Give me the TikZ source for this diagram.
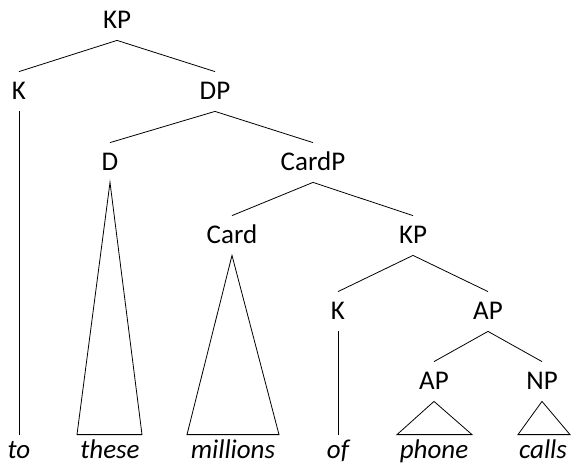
\documentclass[tikz,border=0pt]{standalone}
\usepackage{fontspec}
\setmainfont{Carlito}
\begin{document}
\begin{tikzpicture}[x=1pt,y=-1pt,line width=0.8pt,
  cat/.style={anchor=base,inner xsep=0pt,inner ysep=11pt,text height=17pt,text depth=0pt,font=\fontsize{27}{31}\selectfont},
  leaf/.style={anchor=base,inner xsep=0pt,inner ysep=5pt,text height=18pt,text depth=0pt,font=\fontsize{27}{31}\selectfont\itshape}]
\useasboundingbox (0,0) rectangle (571,465);
% categories
\node[cat] (kp) at (117,29) {KP};
\node[cat] (k) at (19,100) {K};
\node[cat] (dp) at (215,100) {DP};
\node[cat] (d) at (110,171) {D};
\node[cat] (cardp) at (313,171) {CardP};
\node[cat] (card) at (232,244) {Card};
\node[cat] (kp2) at (413,244) {KP};
\node[cat] (k2) at (338,320) {K};
\node[cat] (ap) at (488,320) {AP};
\node[cat] (ap2) at (434,390) {AP};
\node[cat] (np) at (542,390) {NP};
% leaves
\node[leaf] (to) at (19,458) {to};
\node[leaf] (these) at (110,458) {these};
\node[leaf] (millions) at (233,458) {millions};
\node[leaf] (of) at (338,458) {of};
\node[leaf] (phone) at (434,458) {phone};
\node[leaf] (calls) at (543,458) {calls};
% branches
\draw (kp.south) -- (k.north);
\draw (kp.south) -- (dp.north);
\draw (dp.south) -- (d.north);
\draw (dp.south) -- (cardp.north);
\draw (cardp.south) -- (card.north);
\draw (cardp.south) -- (kp2.north);
\draw (kp2.south) -- (k2.north);
\draw (kp2.south) -- (ap.north);
\draw (ap.south) -- (ap2.north);
\draw (ap.south) -- (np.north);
\draw (k.south) -- (to.north);
\draw (k2.south) -- (of.north);
% triangles
\draw (d.south) -- ([xshift=-33pt]these.north) -- ([xshift=32pt]these.north) -- cycle;
\draw (card.south) -- ([xshift=-46pt]millions.north) -- ([xshift=46pt]millions.north) -- cycle;
\draw (ap2.south) -- ([xshift=-37pt]phone.north) -- ([xshift=38pt]phone.north) -- cycle;
\draw (np.south) -- ([xshift=-25pt]calls.north) -- ([xshift=27pt]calls.north) -- cycle;
\end{tikzpicture}
\end{document}
